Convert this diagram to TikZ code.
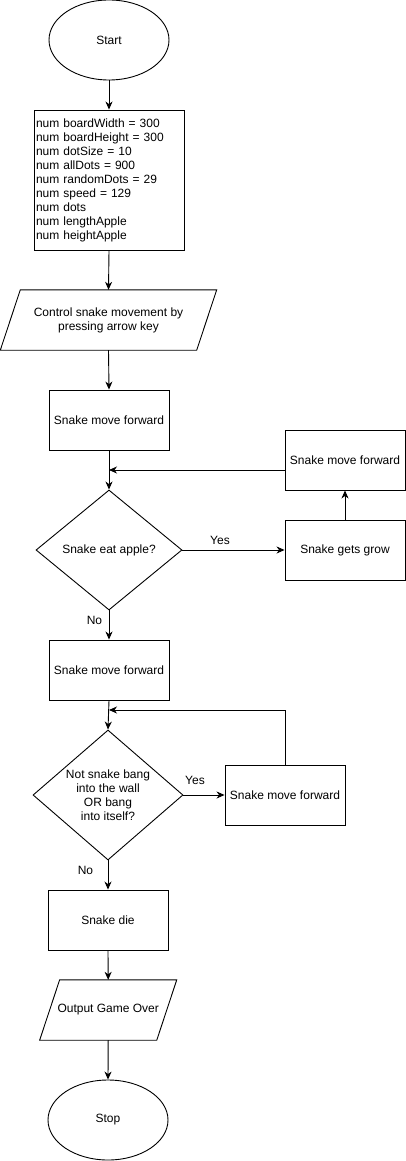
\documentclass[tikz,border=0pt]{standalone}
\usepackage{fontspec}
\setmainfont{Liberation Sans}
\usetikzlibrary{shapes.geometric,arrows.meta}
\begin{document}
\begin{tikzpicture}[x=1pt,y=-1pt,
  every node/.style={font=\fontsize{12pt}{14pt}\selectfont, inner sep=0pt},
  line/.style={draw=black, line width=0.9pt},
  arr/.style={line, -{Stealth[length=8pt,width=7pt,inset=2.5pt]}},
  term/.style={ellipse, draw, line width=0.9pt, minimum width=120pt, minimum height=80pt},
  proc/.style={rectangle, draw, line width=0.9pt, minimum width=120pt, minimum height=60pt},
  dec/.style={diamond, draw, line width=0.9pt, align=center},
  io/.style={rectangle, minimum height=60pt, align=center},
  lbl/.style={inner sep=0pt}
]
\useasboundingbox (0,0) rectangle (406,1161);

\node[term] (start) at (109,40) {Start};
\node[rectangle, draw, line width=0.9pt, minimum width=150pt, minimum height=140pt,
      text width=146pt, inner sep=2pt, align=left] (vars) at (109,180)
 {num boardWidth = 300\\num boardHeight = 300\\num dotSize = 10\\num allDots = 900\\num randomDots = 29\\num speed = 129\\num dots\\num lengthApple\\num heightApple};

\node[io, minimum width=196pt] (in1) at (108.5,320) {Control snake movement by\\pressing arrow key};
\draw[line] ([xshift=10pt]in1.north west) -- ([xshift=10pt]in1.north east) -- ([xshift=-10pt]in1.south east) -- ([xshift=-10pt]in1.south west) -- cycle;

\node[proc] (mf1) at (109,420) {Snake move forward};
\node[dec, minimum width=146pt, minimum height=120pt] (d1) at (109,550) {Snake eat apple?};
\node[proc] (grow) at (345,550) {Snake gets grow};
\node[proc] (mfr1) at (345,460) {Snake move forward};
\coordinate (m1) at (109,470);

\node[proc] (mf2) at (109,670) {Snake move forward};
\node[dec, minimum width=150pt, minimum height=130pt, aspect=1.154] (d2) at (108,795) {Not snake bang\\into the wall\\OR bang\\into itself?};
\node[proc] (mfr2) at (285,795) {Snake move forward};
\coordinate (m2) at (109,710);

\node[proc] (die) at (108,920) {Snake die};
\node[io, minimum width=116.7pt] (out) at (108.2,1010) {Output Game Over};
\draw[line] ([xshift=10pt]out.north west) -- ([xshift=10pt]out.north east) -- ([xshift=-10pt]out.south east) -- ([xshift=-10pt]out.south west) -- cycle;
\node[term] (stop) at (108,1120) {Stop};

\draw[arr] (start.south) -- (vars.north);
\draw[arr] (vars.south) -- (in1.north);
\draw[arr] (in1.south) -- (mf1.north);
\draw[arr] (mf1.south) -- (d1.north);
\draw[arr] (mfr1.west |- m1) -- (m1);
\draw[arr] (d1.east) -- (grow.west);
\draw[arr] (grow.north) -- (mfr1.south);
\draw[arr] (d1.south) -- (mf2.north);
\draw[arr] (mf2.south) -- (d2.north);
\draw[arr] (d2.east) -- (mfr2.west);
\draw[arr] (mfr2.north) |- (m2);
\draw[arr] (d2.south) -- (die.north);
\draw[arr] (die.south) -- (out.north);
\draw[arr] (out.south) -- (stop.north);

\node[lbl] (yes1) at (220,540.5) {Yes};
\node[lbl] (no1) at (94.5,620.5) {No};
\node[lbl] (yes2) at (195,780) {Yes};
\node[lbl] (no2) at (85.5,870.5) {No};
\end{tikzpicture}
\end{document}
